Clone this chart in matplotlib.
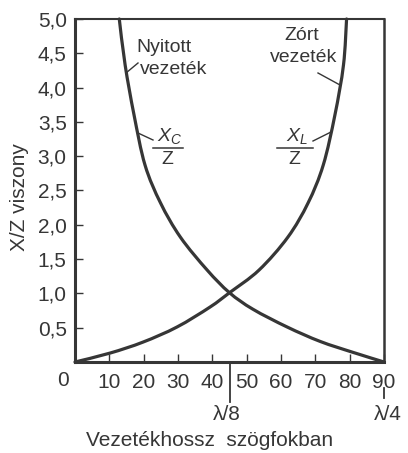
import matplotlib
matplotlib.use("Agg")
import matplotlib.pyplot as plt
from matplotlib.lines import Line2D
from matplotlib.path import Path
from matplotlib.patches import PathPatch

# Open-circuited line: capacitive reactance ratio X_C/Z vs. electrical length
open_deg = [12.9, 14.6, 17.2, 20.4, 24.9, 30.7, 38.5, 45.0, 51.8, 61.8, 71.4, 81.0, 90.0]
open_ratio = [5.0, 4.33, 3.60, 2.87, 2.32, 1.82, 1.34, 1.01, 0.77, 0.51, 0.30, 0.14, 0.0]

# Short-circuited line: inductive reactance ratio X_L/Z
closed_deg = [0.0, 10.2, 19.8, 29.7, 39.3, 45.0, 53.6, 62.0, 67.9, 72.3, 75.7, 78.2, 79.1]
closed_ratio = [0.0, 0.13, 0.29, 0.51, 0.80, 1.01, 1.34, 1.82, 2.32, 2.87, 3.60, 4.33, 5.0]

x_ticks = [10, 20, 30, 40, 50, 60, 70, 80, 90]
x_tick_labels = ["10", "20", "30", "40", "50", "60", "70", "80", "90"]
y_ticks = [0.5, 1.0, 1.5, 2.0, 2.5, 3.0, 3.5, 4.0, 4.5, 5.0]
y_tick_labels = ["0,5", "1,0", "1,5", "2,0", "2,5", "3,0", "3,5", "4,0", "4,5", "5,0"]

INK = "#363636"
plt.rcParams["font.family"] = ["Liberation Sans", "DejaVu Sans"]
plt.rcParams["mathtext.fontset"] = "custom"
plt.rcParams["mathtext.rm"] = "Liberation Sans"
plt.rcParams["mathtext.it"] = "Liberation Sans:italic"

W, H = 408, 453
fig = plt.figure(figsize=(W / 100, H / 100), dpi=100)
fig.patch.set_facecolor("white")


def px(x, y):
    """Pixel position (from top-left) to figure fraction."""
    return x / W, 1 - y / H


def smooth_path(xs, ys):
    """Catmull-Rom curve through the given points as cubic Bezier segments."""
    pts = list(zip(xs, ys))
    ext = [pts[0]] + pts + [pts[-1]]
    verts = [pts[0]]
    codes = [Path.MOVETO]
    for i in range(1, len(ext) - 2):
        p0, p1, p2, p3 = ext[i - 1], ext[i], ext[i + 1], ext[i + 2]
        c1 = (p1[0] + (p2[0] - p0[0]) / 6, p1[1] + (p2[1] - p0[1]) / 6)
        c2 = (p2[0] - (p3[0] - p1[0]) / 6, p2[1] - (p3[1] - p1[1]) / 6)
        verts += [c1, c2, p2]
        codes += [Path.CURVE4] * 3
    return Path(verts, codes)


left, right, top, bottom = 75, 384, 19, 362
ax = fig.add_axes([left / W, 1 - bottom / H, (right - left) / W, (bottom - top) / H])
ax.set_xlim(0, 90)
ax.set_ylim(0, 5.0)

for xs, ys in ((open_deg, open_ratio), (closed_deg, closed_ratio)):
    ax.add_patch(PathPatch(smooth_path(xs, ys), fill=False, edgecolor=INK, lw=2.3,
                           capstyle="round", clip_on=False))

for side, lw in (("left", 2.2), ("bottom", 2.2), ("top", 1.5), ("right", 1.8)):
    ax.spines[side].set_color(INK)
    ax.spines[side].set_linewidth(lw)

ax.set_xticks(x_ticks)
ax.set_xticklabels(x_tick_labels)
ax.set_yticks(y_ticks)
ax.set_yticklabels(y_tick_labels)
ax.tick_params(axis="both", direction="in", length=6, width=1.0, color=INK,
               labelsize=15, labelcolor=INK)
ax.tick_params(axis="x", pad=8)
ax.tick_params(axis="y", pad=6)

# origin label sits left of the corner
fig.text(*px(63, 381), "0", ha="center", va="center", fontsize=15, color=INK)

# quarter-wave and eighth-wave markers below the length axis
ax.plot([45, 45], [0, -0.58], color=INK, lw=1.3, clip_on=False)
ax.plot([90, 90], [-0.38, -0.52], color=INK, lw=1.3, clip_on=False)
fig.text(*px(227, 414), "λ/8", ha="center", va="center", fontsize=15, color=INK)
fig.text(*px(388, 414), "λ/4", ha="center", va="center", fontsize=15, color=INK)

fig.text(*px(210, 440), "Vezetékhossz  szögfokban", ha="center", va="center",
         fontsize=15, color=INK)
fig.text(*px(20, 197), "X/Z viszony", ha="center", va="center", rotation=90,
         fontsize=15, color=INK)

# curve captions
fig.text(*px(164, 48), "Nyitott", ha="center", va="center", fontsize=14, color=INK)
fig.text(*px(174, 70), "vezeték", ha="center", va="center", fontsize=14, color=INK)
fig.text(*px(302, 36), "Zórt", ha="center", va="center", fontsize=14, color=INK)
fig.text(*px(304, 58), "vezeték", ha="center", va="center", fontsize=14, color=INK)

fig.text(*px(170, 136), "$X_C$", ha="center", va="center", fontsize=14, color=INK)
fig.text(*px(167, 159), "Z", ha="center", va="center", fontsize=14, color=INK)
fig.text(*px(297, 136), "$X_L$", ha="center", va="center", fontsize=14, color=INK)
fig.text(*px(294, 159), "Z", ha="center", va="center", fontsize=14, color=INK)


def seg(x0, y0, x1, y1, lw=1.0):
    a, b = px(x0, y0)
    c, d = px(x1, y1)
    fig.add_artist(Line2D([a, c], [b, d], color=INK, lw=lw, transform=fig.transFigure))


# fraction bars
seg(153, 148, 183, 148, 1.1)
seg(277, 148, 313, 148, 1.1)
# leader lines
seg(126, 73, 138, 63)
seg(138, 133, 153, 140)
seg(340, 85, 318, 73)
seg(331, 132, 313, 141)

fig.savefig("out.png", dpi=100, facecolor="white")
